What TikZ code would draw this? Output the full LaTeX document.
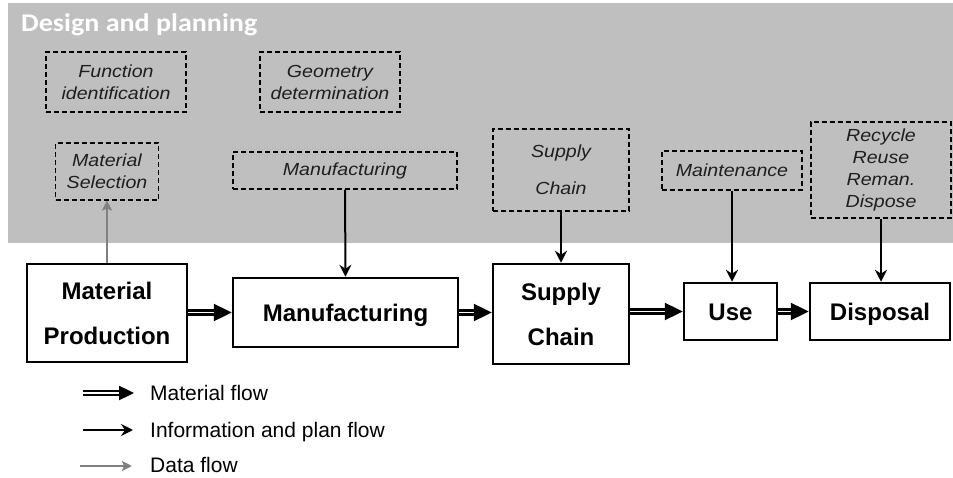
\documentclass[tikz,border=0pt]{standalone}
\usepackage{fontspec}
\setmainfont{Liberation Sans}
\newfontfamily\titlefont[FakeStretch=1.1]{Carlito}
\newfontfamily\dashfont[FakeStretch=1.12]{Liberation Sans}
\usetikzlibrary{arrows.meta}
\definecolor{bggray}{RGB}{191,191,191}
\definecolor{txtgray}{RGB}{30,30,30}
\definecolor{datagray}{RGB}{128,128,128}
\tikzset{
  mainbox/.style={draw, line width=2.5pt, inner sep=0pt, align=center,
    font=\bfseries\fontsize{24}{45}\selectfont},
  oneline/.style={text height=17pt, text depth=0pt},
  planbox/.style={draw, dash pattern=on 5pt off 3pt, line width=1.1pt, inner sep=0pt,
    align=center, text=txtgray, font=\dashfont\itshape\fontsize{17.5}{22}\selectfont},
  matflow/.style={line width=2.4pt, double distance=1.5pt,
    -{Triangle[length=18pt,width=17pt]}},
  infoflow/.style={line width=2pt, -{Stealth[length=12pt,width=12pt,inset=4pt]}},
  dataflow/.style={line width=2pt, datagray, -{Stealth[length=10pt,width=10pt,inset=2pt]}},
  legtext/.style={anchor=base west, inner sep=0pt, font=\fontsize{21}{25}\selectfont}
}
\begin{document}
\begin{tikzpicture}[x=1pt,y=-1pt]
\useasboundingbox (0,0) rectangle (953,478);
\fill[bggray] (8,3) rectangle (953,243);
\node[anchor=base west, inner sep=0pt, text=white,
  font=\titlefont\bfseries\fontsize{25.5}{30}\selectfont] (title) at (21,32) {Design and planning};

% planning boxes
\node[planbox, minimum width=140pt, minimum height=60pt] (fi) at (116,82) {Function\\identification};
\node[planbox, minimum width=140pt, minimum height=60pt] (gd) at (330,82) {Geometry\\determination};
\node[planbox, minimum width=103pt, minimum height=57pt] (ms) at (107,171.5) {Material\\Selection};
\node[planbox, minimum width=224pt, minimum height=37pt] (mfgd) at (345,170.5) {Manufacturing};
\node[planbox, minimum width=136pt, minimum height=82pt,
  font=\dashfont\itshape\fontsize{17.5}{37}\selectfont] (scd) at (561,170) {Supply\\Chain};
\node[planbox, minimum width=140pt, minimum height=39pt] (maint) at (732,170.5) {Maintenance};
\node[planbox, minimum width=140pt, minimum height=96pt] (rec) at (881,170) {Recycle\\Reuse\\Reman.\\Dispose};

% main boxes
\node[mainbox, minimum width=160pt, minimum height=98pt] (mp) at (107,313) {Material\\Production};
\node[mainbox, oneline, minimum width=225pt, minimum height=69pt] (mfg) at (345.5,312.5) {Manufacturing};
\node[mainbox, minimum width=136pt, minimum height=100pt] (sc) at (561,314) {Supply\\Chain};
\node[mainbox, oneline, minimum width=93pt, minimum height=57pt] (use) at (730.5,311.5) {Use};
\node[mainbox, oneline, minimum width=140pt, minimum height=57pt] (disp) at (880,311.5) {Disposal};

% material flows
\draw[matflow] (mp.east |- mfg.west) -- (mfg.west);
\draw[matflow] (mfg.east) -- (mfg.east -| sc.west);
\draw[matflow] (sc.east |- use.west) -- (use.west);
\draw[matflow] (use.east) -- (disp.west);

% information flows
\draw[infoflow] (mfgd.south) -- (mfg.north);
\draw[infoflow] (scd.south) -- (sc.north);
\draw[infoflow] (maint.south) -- (maint.south |- use.north);
\draw[infoflow] (rec.south) -- (rec.south |- disp.north);

% data flow
\draw[dataflow] (mp.north) -- (ms.south);

% legend
\coordinate (l1a) at (83,393); \coordinate (l1b) at (134,393);
\coordinate (l2a) at (83,430); \coordinate (l2b) at (133,430);
\coordinate (l3a) at (80,466); \coordinate (l3b) at (132,466);
\draw[line width=2.4pt, double distance=1.3pt, -{Triangle[length=15pt,width=14pt]}] (l1a) -- (l1b);
\draw[infoflow] (l2a) -- (l2b);
\draw[dataflow] (l3a) -- (l3b);
\node[legtext] (lt1) at (150,400) {Material flow};
\node[legtext] (lt2) at (150,437) {Information and plan flow};
\node[legtext] (lt3) at (150,472) {Data flow};
\end{tikzpicture}
\end{document}
